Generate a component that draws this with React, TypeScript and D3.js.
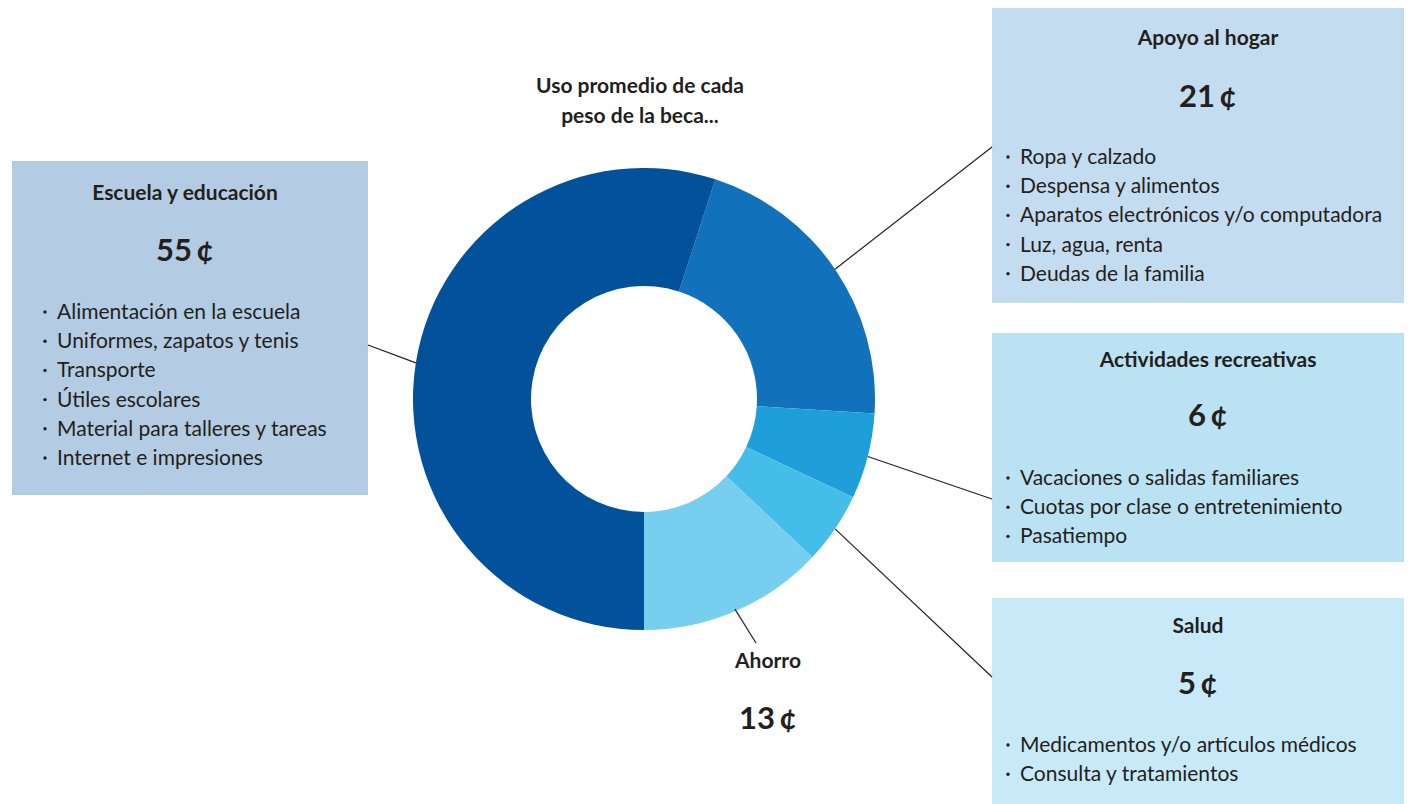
import React from "react";
import * as d3 from "d3";

const categories = ["Apoyo al hogar", "Actividades recreativas", "Salud", "Ahorro", "Escuela y educación"];
const values = [21, 6, 5, 13, 55];
const sliceColors = ["#1172bb", "#1f9fd9", "#44bde9", "#77cff0", "#02529b"];
const title = ["Uso promedio de cada", "peso de la beca..."];

const bulletsEscuela = [
  "Alimentación en la escuela",
  "Uniformes, zapatos y tenis",
  "Transporte",
  "Útiles escolares",
  "Material para talleres y tareas",
  "Internet e impresiones",
];
const bulletsApoyo = [
  "Ropa y calzado",
  "Despensa y alimentos",
  "Aparatos electrónicos y/o computadora",
  "Luz, agua, renta",
  "Deudas de la familia",
];
const bulletsActividades = [
  "Vacaciones o salidas familiares",
  "Cuotas por clase o entretenimiento",
  "Pasatiempo",
];
const bulletsSalud = ["Medicamentos y/o artículos médicos", "Consulta y tratamientos"];

const W = 1409;
const H = 804;
const cx = 644;
const cy = 399;
const R = 231;
const r = 113;
const startDeg = 18;
const FONT = "Lato, 'Open Sans', sans-serif";
const TXT = "#231f20";
const TITLE_SIZE = 21;
const NUM_SIZE = 31;
const BODY_SIZE = 21;

type Box = {
  idx: number;
  x: number; y: number; w: number; h: number;
  fill: string;
  titleY: number; numY: number; bulletY0: number;
  textCx: number; bulletX: number;
  bullets: string[];
  leaderEnd: [number, number];
};

const boxes: Box[] = [
  { idx: 4, x: 12, y: 161, w: 356, h: 334, fill: "#b3cce3", titleY: 200, numY: 260, bulletY0: 318, textCx: 185, bulletX: 45, bullets: bulletsEscuela, leaderEnd: [368, 345] },
  { idx: 0, x: 992, y: 8, w: 412, h: 295, fill: "#c4dcef", titleY: 45, numY: 106, bulletY0: 163, textCx: 1208, bulletX: 1008, bullets: bulletsApoyo, leaderEnd: [992, 147] },
  { idx: 1, x: 992, y: 333, w: 412, h: 229, fill: "#bbe2f3", titleY: 367, numY: 425, bulletY0: 484, textCx: 1208, bulletX: 1008, bullets: bulletsActividades, leaderEnd: [992, 499] },
  { idx: 2, x: 992, y: 598, w: 412, h: 206, fill: "#c8eaf8", titleY: 633, numY: 693, bulletY0: 751, textCx: 1198, bulletX: 1008, bullets: bulletsSalud, leaderEnd: [992, 677] },
];

export default function App() {
  const pie = d3
    .pie<number>()
    .sort(null)
    .value((d) => d)
    .startAngle((startDeg * Math.PI) / 180)
    .endAngle((startDeg * Math.PI) / 180 + 2 * Math.PI);
  const arcs = pie(values);
  const arc = d3.arc<d3.PieArcDatum<number>>().innerRadius(r).outerRadius(R);

  const outerPoint = (i: number, rad: number): [number, number] => {
    const a = (arcs[i].startAngle + arcs[i].endAngle) / 2;
    return [cx + rad * Math.sin(a), cy - rad * Math.cos(a)];
  };

  const lineH = 29.2;
  const ahorroStart = outerPoint(3, R - 2);

  return (
    <svg width={W} height={H} style={{ position: "absolute", left: 0, top: 0, background: "#fff" }} fontFamily={FONT}>
      {boxes.map((b, k) => (
        <g key={k}>
          <rect x={b.x} y={b.y} width={b.w} height={b.h} fill={b.fill} />
          <text x={b.textCx} y={b.titleY} textAnchor="middle" fontSize={TITLE_SIZE} fontWeight={700} fill={TXT}>
            {categories[b.idx]}
          </text>
          <text x={b.textCx} y={b.numY + 1} textAnchor="middle" fontSize={NUM_SIZE} fontWeight={700} fill={TXT}>
            {values[b.idx] + "\u2009¢"}
          </text>
          {b.bullets.map((t, j) => (
            <g key={j}>
              <circle cx={b.bulletX} cy={b.bulletY0 + j * lineH - 6} r={1.7} fill={TXT} />
              <text x={b.bulletX + 12} y={b.bulletY0 + j * lineH + 1} fontSize={BODY_SIZE} fill={TXT}>
                {t}
              </text>
            </g>
          ))}
          {(() => {
            const p = outerPoint(b.idx, R);
            return <line x1={p[0]} y1={p[1]} x2={b.leaderEnd[0]} y2={b.leaderEnd[1]} stroke="#222" strokeWidth={1.2} />;
          })()}
        </g>
      ))}
      <g transform={`translate(${cx},${cy})`}>
        {arcs.map((a, i) => (
          <path key={i} d={arc(a) || ""} fill={sliceColors[i]} />
        ))}
      </g>
      <line x1={ahorroStart[0]} y1={ahorroStart[1]} x2={756} y2={643} stroke="#222" strokeWidth={1.2} />
      <text x={768} y={668} textAnchor="middle" fontSize={TITLE_SIZE} fontWeight={700} fill={TXT}>
        {categories[3]}
      </text>
      <text x={768} y={729} textAnchor="middle" fontSize={NUM_SIZE} fontWeight={700} fill={TXT}>
        {values[3] + "\u2009¢"}
      </text>
      {title.map((t, i) => (
        <text key={i} x={640} y={93 + i * 30} textAnchor="middle" fontSize={TITLE_SIZE} fontWeight={700} fill={TXT}>
          {t}
        </text>
      ))}
    </svg>
  );
}
